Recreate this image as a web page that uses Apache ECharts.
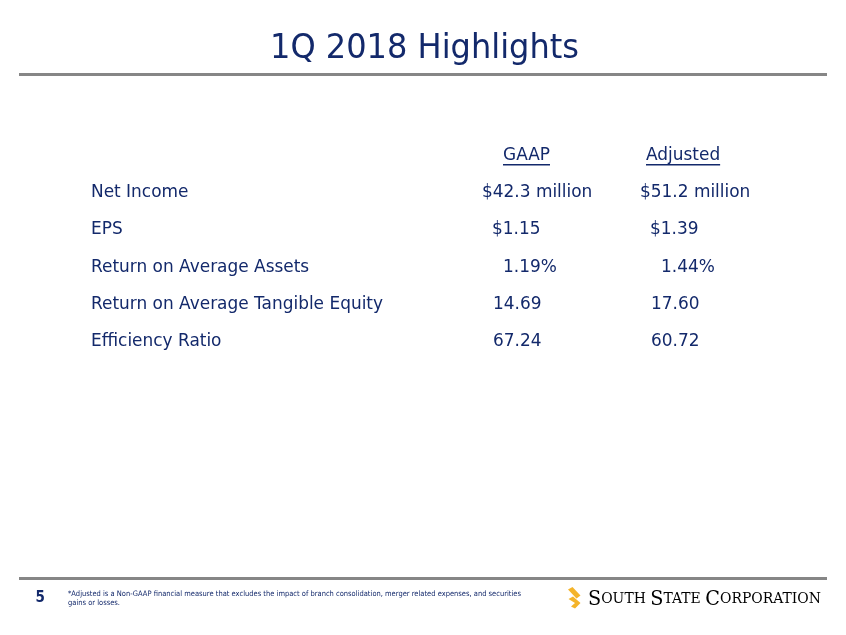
<!DOCTYPE html>
<html><head><meta charset="utf-8">
<script src="https://cdn.jsdelivr.net/npm/echarts@6/dist/echarts.min.js"></script>
<style>html,body{margin:0;padding:0;background:#fff}#c{width:846px;height:635px}</style>
</head><body><div id="c"></div>
<script>
// ---- data ----
const title = '1Q 2018 Highlights';
const columnHeaders = ['GAAP', 'Adjusted'];
const metrics = ['Net Income', 'EPS', 'Return on Average Assets', 'Return on Average Tangible Equity', 'Efficiency Ratio'];
const gaapValues = ['$42.3 million', '$1.15', '1.19%', '14.69', '67.24'];
const adjustedValues = ['$51.2 million', '$1.39', '1.44%', '17.60', '60.72'];
const pageNumber = '5';
const footnoteLines = ['*Adjusted is a Non-GAAP financial measure that excludes the impact of branch consolidation, merger related expenses, and securities', 'gains or losses.'];
const companyName = 'SOUTH STATE CORPORATION';

// ---- layout / style ----
const NAVY = '#13296b';
const GREY = '#868686';
const GOLD = '#f4b42a';
const BODY_FAMILY = 'DejaVu Sans';
const BODY_SIZE = 18;
const rowY0 = 192.5, rowStep = 37.25;
const labelX = 91;
const colX = [482, 640];
const indents = [0, 10, 21, 11, 11];

const ctx = document.createElement('canvas').getContext('2d');
function measure(text, size, family, weight) {
  ctx.font = (weight || 'normal') + ' ' + size + 'px "' + family + '"';
  return ctx.measureText(text).width;
}

const chart = echarts.init(document.getElementById('c'), null, {renderer: 'canvas'});
const g = [];
function txt(text, x, y, size, family, opts) {
  opts = opts || {};
  return {type: 'text', x: x, y: y, scaleX: opts.scaleX || 1, style: {
    text: text, fill: opts.fill || NAVY, fontSize: size, fontFamily: family,
    fontWeight: opts.weight || 'normal', align: opts.align || 'left', verticalAlign: 'middle'}};
}

// title
const titleSize = 34;
const titleScale = 309 / measure(title, titleSize, BODY_FAMILY);
g.push(txt(title, 424.5, 49, titleSize, BODY_FAMILY, {scaleX: titleScale, align: 'center'}));
g.push({type: 'rect', shape: {x: 19, y: 73, width: 808, height: 3}, style: {fill: GREY}});

// body scale fitted to longest label
const bodyScale = 292 / measure(metrics[3], BODY_SIZE, BODY_FAMILY);
// headers
const headerLeft = [503, 646];
columnHeaders.forEach((h, i) => {
  g.push(txt(h, headerLeft[i], 155, BODY_SIZE, BODY_FAMILY, {scaleX: bodyScale}));
  const w = measure(h, BODY_SIZE, BODY_FAMILY) * bodyScale;
  g.push({type: 'rect', shape: {x: headerLeft[i], y: 164, width: w, height: 1.5}, style: {fill: NAVY}});
});
// rows
metrics.forEach((m, r) => {
  const y = rowY0 + r * rowStep;
  g.push(txt(m, labelX, y, BODY_SIZE, BODY_FAMILY, {scaleX: bodyScale}));
  [gaapValues, adjustedValues].forEach((vals, c) => {
    g.push(txt(vals[r], colX[c] + indents[r], y, BODY_SIZE, BODY_FAMILY, {scaleX: bodyScale}));
  });
});

// footer
g.push({type: 'rect', shape: {x: 19, y: 577, width: 808, height: 3}, style: {fill: GREY}});
g.push(txt(pageNumber, 35.5, 598, 15, 'DejaVu Sans Condensed', {weight: 'bold'}));
const fnSize = 7.5;
const fnScale = 453 / measure(footnoteLines[0], fnSize, BODY_FAMILY);
footnoteLines.forEach((t, i) => {
  g.push(txt(t, 68, 594.5 + i * 9, fnSize, BODY_FAMILY, {scaleX: fnScale}));
});

// logo icon
g.push({type: 'polygon', shape: {points: [[568, 589.5], [572.5, 587], [580.5, 595.5], [576.5, 598.5]]}, style: {fill: GOLD}});
g.push({type: 'polygon', shape: {points: [[568.5, 599], [573, 596.5], [580.5, 603], [575, 608.5], [571, 606.5], [575, 603]]}, style: {fill: GOLD}});

// company name in small caps
const SERIF = 'DejaVu Serif';
const bigSize = 20, smallSize = 14.5;
const words = companyName.split(' ');
let nameWidth = 0;
words.forEach((w, i) => {
  nameWidth += measure(w[0], bigSize, SERIF) + measure(w.slice(1), smallSize, SERIF);
  if (i < words.length - 1) nameWidth += measure(' ', smallSize, SERIF);
});
const nameScale = 233 / nameWidth;
const rich = {big: {fontFamily: SERIF, fontSize: bigSize, color: NAVY}, small: {fontFamily: SERIF, fontSize: smallSize, color: NAVY}};
const parts = words.map(w => '{big|' + w[0] + '}{small|' + w.slice(1) + '}');
g.push({type: 'text', x: 588, y: 599.5, scaleX: nameScale, style: {text: parts.join('{small| }'), rich: rich, verticalAlign: 'middle'}});

chart.setOption({backgroundColor: '#fff', animation: false, graphic: g});
</script></body></html>
